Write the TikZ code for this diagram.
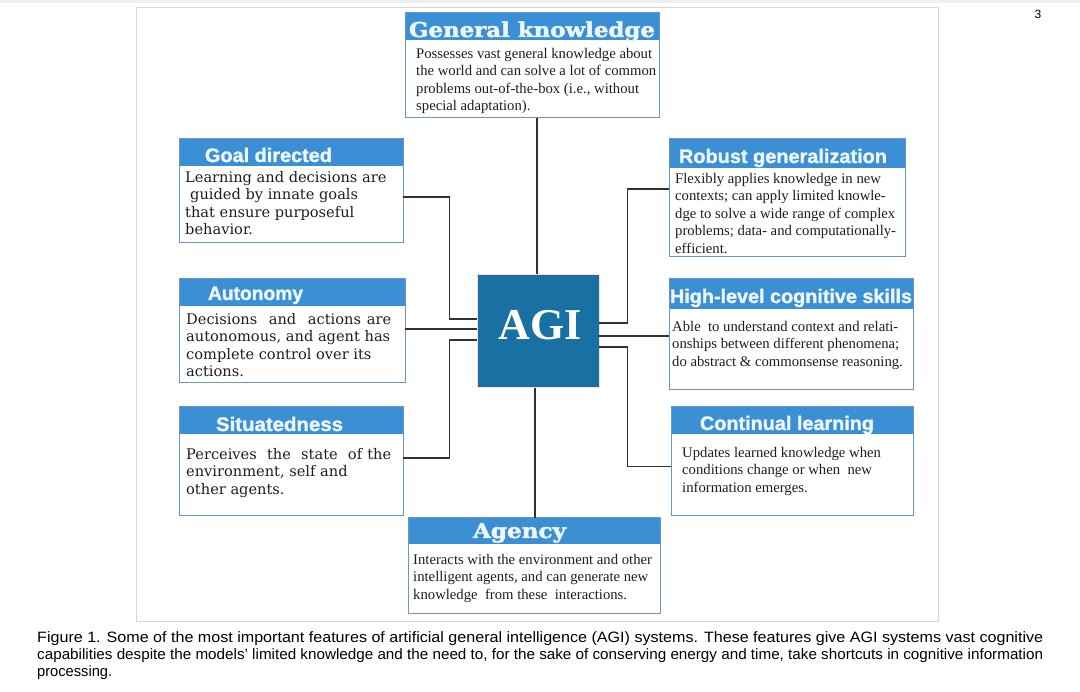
\documentclass[tikz,border=0pt]{standalone}
\usepackage{fontspec}
\usepackage{graphicx}
\setmainfont{Liberation Serif}
\newfontfamily\capfont{Liberation Sans}
\newfontfamily\hdsans[BoldFeatures={FakeBold=1.6}]{Liberation Sans}
\newfontfamily\hdserif[BoldFeatures={FakeBold=2.2}]{DejaVu Serif}
\newfontfamily\wideserif{DejaVu Serif}
\newcommand\fitw[2]{\resizebox{#1}{\height}{#2}}
\definecolor{hdblue}{RGB}{59,143,212}
\definecolor{bdblue}{RGB}{105,150,198}
\definecolor{agiblue}{RGB}{24,112,163}
\definecolor{lnk}{RGB}{50,50,50}
\definecolor{hdtext}{RGB}{236,246,253}
\definecolor{bodytext}{RGB}{30,30,30}
\definecolor{framegray}{RGB}{215,215,215}
\tikzset{
  boxbg/.style={fill=white, anchor=north west, inner sep=0pt, outer sep=0pt},
  hdr/.style={fill=hdblue, anchor=north west, inner sep=0pt, outer sep=0pt},
  boxline/.style={draw=bdblue, line width=1pt},
  hdtxt/.style={text=hdtext, inner sep=0pt, anchor=base, font=\hdsans\bfseries\fontsize{19.5}{19.5}\selectfont},
  hdtxtserif/.style={text=hdtext, inner sep=0pt, anchor=base, font=\hdserif\bfseries\fontsize{20.5}{20.5}\selectfont},
  bodyt/.style={text=bodytext, anchor=base west, inner sep=0pt, align=left, font=\fontsize{14.7}{17.5}\selectfont},
  bodyw/.style={text=bodytext, anchor=base west, inner sep=0pt, align=left, font=\wideserif\fontsize{14.6}{17.5}\selectfont},
  link/.style={draw=lnk, line width=1.2pt},
  captxt/.style={anchor=base west, inner sep=0pt, text=black, font=\capfont\fontsize{15}{17.5}\selectfont},
}
\begin{document}
\begin{tikzpicture}[x=1pt,y=-1pt]
\useasboundingbox (0,0) rectangle (1080,692);
\fill[white] (0,0) rectangle (1080,692);
\fill[gray!12] (0,0) rectangle (1080,3);
% outer frame
\node[draw=framegray, line width=0.8pt, anchor=north west, inner sep=0pt, minimum width=802pt, minimum height=614pt] (frame) at (136,7) {};
\node[anchor=base, inner sep=0pt, font=\capfont\fontsize{12}{12}\selectfont] (pnum) at (1038,19) {3};

% ---------- boxes ----------
% General knowledge
\node[boxbg, minimum width=254pt, minimum height=105pt] (gk) at (405,13) {};
\node[hdr, minimum width=254pt, minimum height=27pt] (gkh) at (405,13) {};
\draw[boxline] (gk.north west) rectangle (gk.south east);
\node[hdtxtserif] (gkt) at (532,37) {\fitw{246pt}{General knowledge}};
\node[bodyt] (gkb) at (416,111) {Possesses vast general knowledge about\\the world and can solve a lot of common\\problems out-of-the-box (i.e., without\\special adaptation).};

% Goal directed
\node[boxbg, minimum width=224pt, minimum height=104pt] (gd) at (179,139) {};
\node[hdr, minimum width=224pt, minimum height=27pt] (gdh) at (179,139) {};
\draw[boxline] (gd.north west) rectangle (gd.south east);
\node[hdtxt] (gdt) at (268.5,162) {\fitw{127pt}{Goal directed}};
\node[bodyw] (gdb) at (185,235) {Learning and decisions are\\\hspace*{5pt}guided by innate goals\\that ensure purposeful\\behavior.};

% Autonomy
\node[boxbg, minimum width=226pt, minimum height=104pt] (au) at (179,279) {};
\node[hdr, minimum width=226pt, minimum height=27pt] (auh) at (179,279) {};
\draw[boxline] (au.north west) rectangle (au.south east);
\node[hdtxt] (aut) at (255.5,300) {\fitw{95pt}{Autonomy}};
\node[bodyw] (aub) at (186,377) {\makebox[205pt][s]{Decisions\ \ and\ \ actions are}\\autonomous, and agent has\\complete control over its\\actions.};

% Situatedness
\node[boxbg, minimum width=224pt, minimum height=109pt] (si) at (179,407) {};
\node[hdr, minimum width=224pt, minimum height=27pt] (sih) at (179,407) {};
\draw[boxline] (si.north west) rectangle (si.south east);
\node[hdtxt] (sit) at (279.5,431) {\fitw{127pt}{Situatedness}};
\node[bodyw] (sib) at (186,494.5) {\makebox[205pt][s]{Perceives\ \ the\ \ state\ \ of the}\\environment, self and\\other agents.};

% Robust generalization
\node[boxbg, minimum width=236pt, minimum height=118pt] (rg) at (669,139) {};
\node[hdr, minimum width=236pt, minimum height=29pt] (rgh) at (669,139) {};
\draw[boxline] (rg.north west) rectangle (rg.south east);
\node[hdtxt] (rgt) at (783,163) {\fitw{208pt}{Robust generalization}};
\node[bodyt] (rgb) at (675,253.5) {Flexibly applies knowledge in new\\contexts; can apply limited knowle-\\dge to solve a wide range of complex\\problems; data- and computationally-\\efficient.};

% High-level cognitive skills
\node[boxbg, minimum width=244pt, minimum height=111pt] (hl) at (669,279) {};
\node[hdr, minimum width=244pt, minimum height=30pt] (hlh) at (669,279) {};
\draw[boxline] (hl.north west) rectangle (hl.south east);
\node[hdtxt] (hlt) at (791,303) {\fitw{242pt}{High-level cognitive skills}};
\node[bodyt] (hlb) at (672,366.5) {Able\ \ to understand context and relati-\\onships between different phenomena;\\do abstract \& commonsense reasoning.};

% Continual learning
\node[boxbg, minimum width=242pt, minimum height=109pt] (cl) at (671,407) {};
\node[hdr, minimum width=242pt, minimum height=27pt] (clh) at (671,407) {};
\draw[boxline] (cl.north west) rectangle (cl.south east);
\node[hdtxt] (clt) at (787,430) {\fitw{174pt}{Continual learning}};
\node[bodyt] (clb) at (682,492.5) {Updates learned knowledge when\\conditions change or when\ \ new\\information emerges.};

% Agency
\node[boxbg, minimum width=252pt, minimum height=95pt] (ag) at (408,518) {};
\node[hdr, minimum width=252pt, minimum height=26pt] (agh) at (408,518) {};
\draw[boxline] (ag.north west) rectangle (ag.south east);
\node[hdtxtserif] (agt) at (519.5,538) {\fitw{93pt}{Agency}};
\node[bodyt] (agb) at (413,599.5) {Interacts with the environment and other\\intelligent agents, and can generate new\\knowledge\ \ from these\ \ interactions.};

% AGI centre
\node[fill=agiblue, draw=red!15, line width=0.8pt, minimum width=122pt, minimum height=113pt, inner sep=0pt] (agi) at (538,331) {};
\node[anchor=base, inner sep=0pt, text=white, font=\bfseries\fontsize{44}{44}\selectfont] (agit) at (540,340) {AGI};

% ---------- connectors ----------
\draw[link] ([xshift=5pt]gk.south) -- ([xshift=-1pt]agi.north);
\draw[link] ([xshift=-3pt]agi.south) -- ([xshift=1pt]ag.north);
\draw[link] ([yshift=-6pt]gd.east) -| ([xshift=-27pt,yshift=12pt]agi.west) -- ([yshift=12pt]agi.west);
\draw[link] ([yshift=2pt]au.east) -- ([yshift=2pt]agi.west);
\draw[link] ([yshift=3.5pt]si.east) -| ([xshift=-27pt,yshift=-9pt]agi.west) -- ([yshift=-9pt]agi.west);
\draw[link] ([yshift=9pt]rg.west) -| ([xshift=28pt,yshift=8pt]agi.east) -- ([yshift=8pt]agi.east);
\draw[link] ([yshift=-1.5pt]hl.west) -- ([yshift=-5pt]agi.east);
\draw[link] ([yshift=-5pt]cl.west) -| ([xshift=28pt,yshift=-16pt]agi.east) -- ([yshift=-16pt]agi.east);

% ---------- caption ----------
\node[captxt] (cap1) at (37,642.5) {\fitw{1006pt}{Figure 1. Some of the most important features of artificial general intelligence (AGI) systems. These features give AGI systems vast cognitive}};
\node[captxt] (cap2) at (37,659.5) {\fitw{1006pt}{capabilities despite the models’ limited knowledge and the need to, for the sake of conserving energy and time, take shortcuts in cognitive information}};
\node[captxt] (cap3) at (37,676.5) {\fitw{75pt}{processing.}};
\end{tikzpicture}
\end{document}
